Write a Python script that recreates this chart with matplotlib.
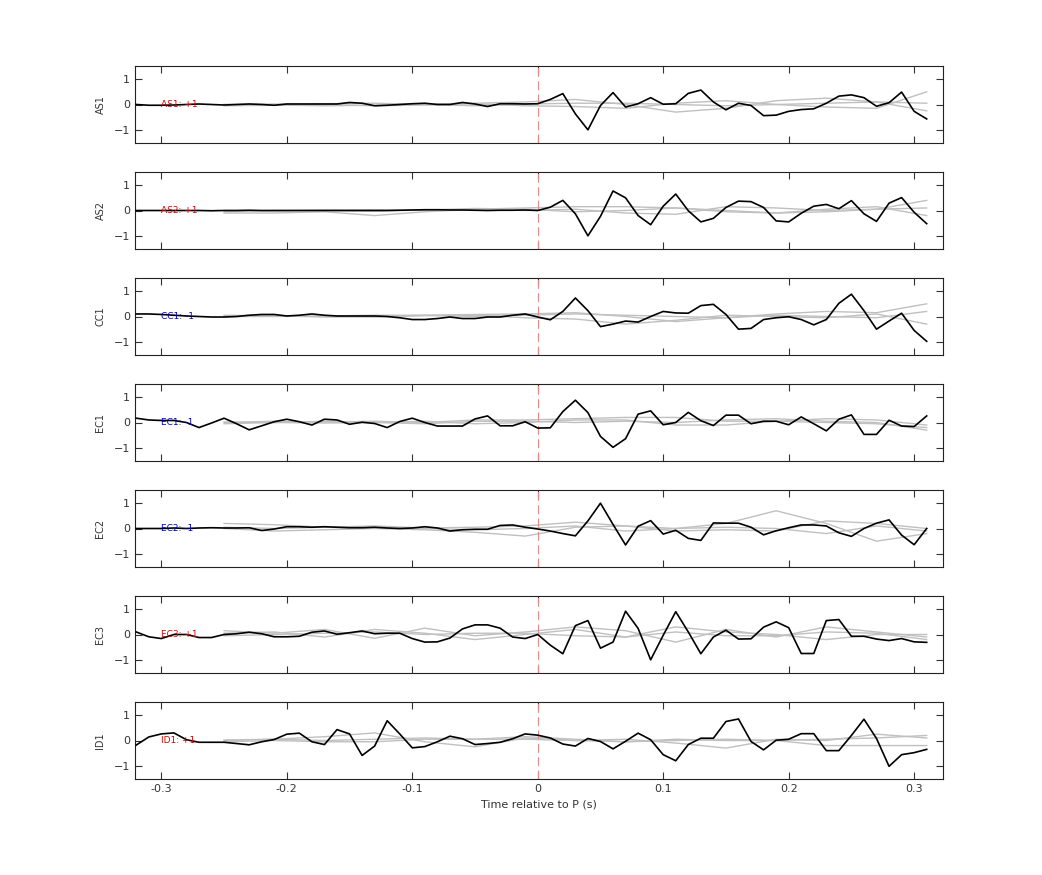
import numpy as np
import matplotlib
matplotlib.use("Agg")
import matplotlib.pyplot as plt

stations = ["AS1", "AS2", "CC1", "EC1", "EC2", "EC3", "ID1"]
polarity = ["+1", "+1", "-1", "-1", "-1", "+1", "+1"]
label_colors = ["#dd0000", "#dd0000", "#0000cc", "#0000cc", "#0000cc", "#dd0000", "#dd0000"]

t = np.round(np.arange(-0.32, 0.315, 0.01), 2)

as1 = [0.0, -0.03, -0.03, -0.02, 0.0, 0.02, 0.0, -0.02, 0.0, 0.02, 0.0, -0.03, 0.02, 0.02, 0.02, 0.02,
       0.02, 0.08, 0.05, -0.05, -0.03, 0.0, 0.03, 0.05, 0.0, 0.0, 0.08, 0.02, -0.08, 0.03, 0.03, 0.02,
       0.03, 0.2, 0.43, -0.37, -1.0, -0.04, 0.47, -0.1, 0.03, 0.27, 0.01, 0.03, 0.44, 0.57, 0.1, -0.21,
       0.05, -0.04, -0.44, -0.42, -0.27, -0.2, -0.17, 0.05, 0.33, 0.38, 0.27, -0.07, 0.07, 0.49, -0.27, -0.57]
as2 = [0.0, 0.0, 0.0, 0.0, 0.0, 0.0, -0.01, 0.0, 0.0, 0.01, 0.0, 0.0, 0.0, 0.0, 0.0, 0.0,
       0.0, 0.0, 0.0, 0.0, 0.0, 0.01, 0.02, 0.03, 0.03, 0.02, 0.02, 0.01, 0.0, 0.01, 0.01, 0.02,
       0.0, 0.13, 0.4, -0.13, -1.0, -0.23, 0.77, 0.5, -0.2, -0.56, 0.17, 0.65, -0.01, -0.45, -0.31, 0.12,
       0.37, 0.35, 0.12, -0.41, -0.45, -0.11, 0.17, 0.24, 0.07, 0.39, -0.13, -0.43, 0.29, 0.51, -0.07, -0.52]
cc1 = [0.1, 0.1, 0.08, 0.05, 0.02, 0.0, -0.02, -0.02, 0.0, 0.05, 0.08, 0.08, 0.02, 0.05, 0.1, 0.05,
       0.02, 0.02, 0.02, 0.02, 0.0, -0.05, -0.12, -0.12, -0.08, -0.02, -0.08, -0.08, -0.02, -0.02, 0.05, 0.1,
       -0.02, -0.13, 0.2, 0.73, 0.23, -0.4, -0.3, -0.18, -0.22, 0.0, 0.2, 0.14, 0.13, 0.43, 0.48, 0.08,
       -0.5, -0.47, -0.12, -0.05, -0.01, -0.12, -0.33, -0.12, 0.52, 0.88, 0.23, -0.5, -0.18, 0.13, -0.55, -0.98]
ec1 = [0.17, 0.1, 0.08, 0.08, 0.0, -0.2, -0.02, 0.17, -0.05, -0.29, -0.13, 0.03, 0.13, 0.03, -0.1, 0.13,
       0.1, -0.07, 0.01, -0.04, -0.2, 0.04, 0.17, 0.0, -0.14, -0.14, -0.14, 0.14, 0.26, -0.13, -0.13, 0.03,
       -0.22, -0.21, 0.43, 0.88, 0.39, -0.55, -0.98, -0.64, 0.33, 0.46, -0.09, 0.0, 0.4, 0.07, -0.12, 0.29,
       0.29, -0.05, 0.05, 0.05, -0.09, 0.22, -0.05, -0.33, 0.13, 0.3, -0.47, -0.47, 0.09, -0.14, -0.16, 0.26]
ec2 = [0.0, 0.0, 0.0, 0.02, 0.0, 0.02, 0.03, 0.02, 0.02, 0.03, -0.08, -0.02, 0.07, 0.07, 0.05, 0.07,
       0.05, 0.03, 0.03, 0.05, 0.02, 0.0, 0.02, 0.07, 0.02, -0.1, -0.05, -0.03, -0.03, 0.12, 0.14, 0.05,
       -0.02, -0.1, -0.2, -0.29, 0.3, 1.0, 0.16, -0.65, 0.09, 0.31, -0.22, -0.07, -0.39, -0.47, 0.22, 0.21,
       0.21, 0.05, -0.25, -0.09, 0.03, 0.14, 0.14, 0.1, -0.17, -0.31, 0.0, 0.21, 0.34, -0.26, -0.64, 0.0]
ec3 = [0.1, -0.09, -0.16, 0.0, 0.0, -0.12, -0.12, 0.0, 0.03, 0.09, 0.03, -0.09, -0.09, -0.07, 0.09, 0.14,
       0.01, 0.07, 0.14, 0.03, 0.05, 0.05, -0.16, -0.3, -0.29, -0.14, 0.22, 0.38, 0.38, 0.25, -0.1, -0.16,
       0.0, -0.42, -0.76, 0.35, 0.55, -0.54, -0.3, 0.92, 0.24, -1.0, -0.03, 0.9, 0.1, -0.76, -0.1, 0.17,
       -0.18, -0.17, 0.29, 0.5, 0.27, -0.75, -0.75, 0.55, 0.59, -0.07, -0.07, -0.18, -0.24, -0.16, -0.29, -0.31]
id1 = [-0.18, 0.14, 0.26, 0.3, 0.03, -0.07, -0.07, -0.07, -0.12, -0.17, -0.05, 0.04, 0.25, 0.29, -0.05, -0.16,
       0.43, 0.26, -0.59, -0.22, 0.78, 0.26, -0.29, -0.24, -0.05, 0.17, 0.07, -0.16, -0.12, -0.07, 0.07, 0.26,
       0.21, 0.1, -0.14, -0.22, 0.08, -0.04, -0.33, -0.03, 0.29, 0.03, -0.56, -0.8, -0.16, 0.09, 0.09, 0.75,
       0.85, -0.04, -0.37, 0.01, 0.05, 0.27, 0.27, -0.4, -0.4, 0.2, 0.84, 0.08, -1.02, -0.56, -0.48, -0.35]
traces = [as1, as2, cc1, ec1, ec2, ec3, id1]

# synthetic comparison traces (grey), sampled every 0.04 s
tg = np.round(np.arange(-0.25, 0.32, 0.04), 2)
grey = {
    "AS1": [[0.0, -0.02, -0.05, -0.03, 0.02, 0.05, 0.1, 0.2, 0.0, -0.3, -0.15, 0.15, 0.25, 0.1, -0.25],
            [0.0, 0.02, 0.0, -0.05, -0.02, 0.03, -0.05, -0.08, -0.15, 0.05, 0.15, 0.0, -0.1, -0.15, 0.5],
            [-0.05, -0.03, 0.03, 0.05, 0.0, -0.05, 0.02, 0.05, 0.05, 0.0, -0.05, 0.0, 0.05, 0.1, 0.05]],
    "AS2": [[-0.1, -0.1, -0.05, -0.2, -0.05, 0.05, 0.1, 0.15, 0.15, 0.1, -0.05, -0.1, -0.05, 0.05, 0.4],
            [0.0, -0.02, 0.02, 0.03, 0.0, 0.05, 0.0, 0.05, -0.1, -0.15, 0.15, 0.1, 0.0, 0.05, 0.1],
            [-0.05, 0.0, 0.0, -0.02, 0.02, 0.08, 0.05, -0.05, 0.0, 0.1, 0.0, -0.1, 0.05, 0.15, -0.2]],
    "CC1": [[0.0, 0.0, 0.02, 0.05, 0.05, 0.08, 0.1, 0.15, 0.0, -0.2, -0.05, 0.1, 0.2, 0.15, 0.5],
            [0.05, 0.02, 0.0, -0.02, 0.03, 0.05, -0.05, -0.1, -0.3, -0.15, 0.05, 0.0, -0.05, 0.1, -0.3],
            [0.0, 0.03, -0.02, 0.0, 0.05, 0.0, 0.05, 0.1, 0.05, 0.0, -0.05, 0.05, 0.0, -0.05, 0.2]],
    "EC1": [[0.0, 0.05, 0.02, 0.05, 0.0, 0.1, 0.1, 0.15, 0.2, 0.2, 0.05, 0.05, 0.15, 0.1, -0.1],
            [0.02, 0.0, -0.02, 0.0, 0.05, -0.05, 0.0, 0.1, 0.1, -0.1, -0.1, 0.05, 0.0, -0.05, -0.2],
            [-0.05, 0.0, 0.05, 0.0, -0.05, 0.05, 0.05, 0.0, 0.05, 0.0, 0.1, 0.15, 0.05, 0.0, -0.3]],
    "EC2": [[0.2, 0.15, 0.05, 0.1, 0.02, 0.05, 0.1, 0.25, 0.1, 0.0, 0.2, 0.7, 0.2, -0.5, -0.2],
            [0.0, -0.1, -0.05, 0.0, -0.05, -0.15, -0.3, 0.05, 0.1, -0.1, -0.05, -0.1, 0.3, 0.2, 0.0],
            [0.05, 0.0, 0.05, 0.02, 0.0, -0.05, 0.0, 0.1, -0.1, 0.0, 0.05, 0.0, -0.2, 0.1, -0.1]],
    "EC3": [[0.15, 0.05, 0.2, -0.15, 0.25, -0.05, 0.1, 0.3, 0.15, -0.3, 0.2, -0.1, 0.3, 0.1, -0.1],
            [0.05, 0.1, -0.1, 0.2, 0.05, -0.2, 0.0, 0.2, -0.1, 0.3, 0.1, 0.0, -0.2, 0.0, 0.0],
            [-0.05, 0.0, 0.05, 0.1, 0.0, 0.05, 0.05, -0.05, -0.1, 0.1, -0.05, -0.05, 0.1, 0.05, -0.2]],
    "ID1": [[0.0, 0.05, 0.15, 0.3, -0.05, -0.25, 0.1, 0.0, -0.05, 0.05, 0.0, 0.0, -0.2, -0.2, -0.2],
            [0.02, 0.05, 0.0, 0.05, 0.1, 0.05, 0.05, 0.0, 0.05, -0.1, -0.3, 0.05, 0.0, 0.25, 0.1],
            [-0.05, 0.0, -0.05, -0.05, 0.05, 0.05, 0.15, 0.05, -0.05, 0.0, 0.05, 0.0, 0.05, 0.1, 0.2]],
}

W, H = 1042, 875
fig = plt.figure(figsize=(W / 100, H / 100), dpi=100)
left, right = 135 / W, 943 / W
tops = [66, 172, 278, 384, 490, 596, 702]
ph = 77

for i, st in enumerate(stations):
    ax = fig.add_axes([left, 1 - (tops[i] + ph) / H, right - left, ph / H])
    for g in grey[st]:
        ax.plot(tg, g, color="#c0c0c0", lw=1.0, zorder=1)
    ax.axvline(0, color="#e88888", lw=0.8, ls=(0, (8, 4)), zorder=2)
    ax.plot(t, traces[i], color="black", lw=1.2, zorder=3)
    ax.text(-0.3, 0, f"{st}: {polarity[i]}", color=label_colors[i], fontsize=6.5,
            va="center", ha="left", zorder=4)
    ax.set_xlim(-0.321, 0.323)
    ax.set_ylim(-1.52, 1.52)
    ax.set_yticks([-1, 0, 1])
    ax.set_xticks([-0.3, -0.2, -0.1, 0, 0.1, 0.2, 0.3])
    ax.tick_params(direction="in", top=True, right=True, labelsize=8, length=5, colors="#333333")
    ax.set_ylabel(st, fontsize=7, color="#333333", labelpad=6)
    for s in ax.spines.values():
        s.set_color("#222222")
    if i < len(stations) - 1:
        ax.set_xticklabels([])
    else:
        ax.set_xticklabels(["-0.3", "-0.2", "-0.1", "0", "0.1", "0.2", "0.3"])
        ax.set_xlabel("Time relative to P (s)", fontsize=8, color="#333333")

fig.savefig("out.png", dpi=100)
